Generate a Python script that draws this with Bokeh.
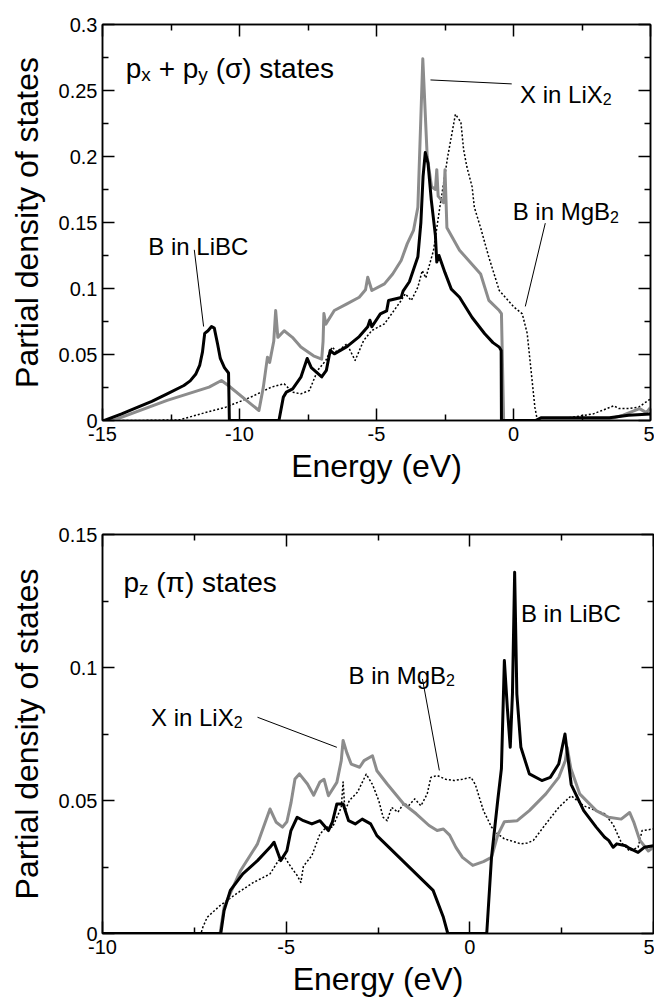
from bokeh.plotting import figure
from bokeh.models import Range1d, FixedTicker, LinearAxis, Label, CustomJSTickFormatter
from bokeh.layouts import column
from bokeh.embed import file_html
from bokeh.resources import INLINE

FONT = "Liberation Sans"

# ---------------- data: top panel (px + py, sigma states) ----------------
top_x_ticks = [-15, -10, -5, 0, 5]
top_x_minor = [-12.5, -7.5, -2.5, 2.5]
top_x_labels = ["-15", "-10", "-5", "0", "5"]
top_y_ticks = [0, 0.05, 0.1, 0.15, 0.2, 0.25, 0.3]
top_y_minor = [0.025, 0.075, 0.125, 0.175, 0.225, 0.275]
top_y_labels = ["0", "0.05", "0.1", "0.15", "0.2", "0.25", "0.3"]

top_libc = [(-15, 0), (-14.93, 0), (-14.3, 0.005), (-13.71, 0.0101), (-13.2, 0.0145),
            (-12.64, 0.0202), (-12.03, 0.0265), (-11.8, 0.030), (-11.6, 0.035), (-11.45, 0.042),
            (-11.35, 0.052), (-11.27, 0.066), (-11.15, 0.068), (-11.02, 0.0712), (-10.92, 0.070),
            (-10.8, 0.058), (-10.7, 0.047), (-10.55, 0.040), (-10.4, 0.036), (-10.37, 0),
            (-8.56, 0), (-8.40, 0.0177), (-8.29, 0.0215), (-8.06, 0.024), (-7.76, 0.0328),
            (-7.53, 0.047), (-7.38, 0.040), (-7.0, 0.033), (-6.83, 0.038), (-6.69, 0.053),
            (-6.54, 0.0505), (-6.08, 0.056), (-5.63, 0.0636), (-5.32, 0.071), (-5.24, 0.076),
            (-5.17, 0.071), (-4.86, 0.0808), (-4.63, 0.083), (-4.56, 0.0909), (-4.10, 0.0932),
            (-4.03, 0.098), (-3.80, 0.1051), (-3.49, 0.124), (-3.38, 0.15), (-3.30, 0.185),
            (-3.22, 0.203), (-3.12, 0.195), (-3.0, 0.167), (-2.85, 0.14), (-2.8, 0.12),
            (-2.72, 0.125), (-2.5, 0.112), (-2.27, 0.0995), (-1.97, 0.0934), (-1.51, 0.078),
            (-1.05, 0.0657), (-0.75, 0.059), (-0.52, 0.0556), (-0.45, 0.053), (-0.44, 0),
            (0.8, 0), (1.0, 0.002), (3.5, 0.002), (4.2, 0.004), (5.0, 0.005)]

top_lix2 = [(-15, 0), (-14.62, 0), (-12.64, 0.0152), (-11.11, 0.0253), (-10.66, 0.0303),
            (-10.41, 0.0265), (-9.59, 0.0126), (-9.29, 0.0076), (-9.13, 0.0253), (-8.98, 0.048),
            (-8.90, 0.044), (-8.75, 0.06), (-8.68, 0.0833), (-8.60, 0.063), (-8.37, 0.068),
            (-8.07, 0.063), (-7.76, 0.0556), (-7.3, 0.049), (-7.0, 0.0465), (-6.95, 0.06),
            (-6.92, 0.081), (-6.85, 0.073), (-6.54, 0.0833), (-6.08, 0.0884), (-5.63, 0.0934),
            (-5.4, 0.099), (-5.32, 0.1086), (-5.17, 0.0985), (-4.71, 0.1035), (-4.41, 0.111),
            (-4.10, 0.1212), (-3.88, 0.1338), (-3.65, 0.144), (-3.49, 0.1616), (-3.31, 0.274),
            (-3.15, 0.20), (-2.99, 0.177), (-2.85, 0.175), (-2.8, 0.19), (-2.75, 0.17),
            (-2.55, 0.165), (-2.5, 0.19), (-2.43, 0.146), (-1.97, 0.129), (-1.20, 0.111),
            (-0.90, 0.091), (-0.52, 0.0833), (-0.44, 0.081), (-0.36, 0), (3.3, 0),
            (4.0, 0.004), (4.6, 0.009), (4.85, 0.006), (5.0, 0.01)]

top_mgb2 = [(-15, 0), (-13.7, 0), (-12.18, 0.0005), (-11.42, 0.005), (-10.5, 0.0101),
            (-9.59, 0.0177), (-8.83, 0.0253), (-8.37, 0.0278), (-8.07, 0.0215), (-7.76, 0.0202),
            (-7.45, 0.0227), (-7.15, 0.0379), (-6.85, 0.0455), (-6.62, 0.0556), (-6.45, 0.052),
            (-6.08, 0.058), (-5.78, 0.0455), (-5.47, 0.0606), (-5.17, 0.0682), (-4.71, 0.0732),
            (-4.10, 0.0909), (-3.95, 0.096), (-3.73, 0.0909), (-3.49, 0.101), (-3.33, 0.1136),
            (-3.2, 0.108), (-2.92, 0.1288), (-2.7, 0.16), (-2.4, 0.20), (-2.12, 0.232),
            (-2.02, 0.229), (-1.92, 0.226), (-1.82, 0.205), (-1.70, 0.192), (-1.51, 0.177),
            (-1.43, 0.1616), (-1.20, 0.146), (-0.90, 0.1237), (-0.52, 0.0985), (0.015, 0.086),
            (0.32, 0.0808), (0.5, 0.066), (0.78, 0.0101), (0.86, 0.0013), (2.0, 0.002),
            (2.91, 0.005), (3.66, 0.0111), (3.85, 0.009), (4.2, 0.009), (4.57, 0.0101),
            (5.0, 0.0164)]

# ---------------- data: bottom panel (pz, pi states) ----------------
bot_x_ticks = [-10, -5, 0, 5]
bot_x_minor = [-7.5, -2.5, 2.5]
bot_x_labels = ["-10", "-5", "0", "5"]
bot_y_ticks = [0, 0.05, 0.1, 0.15]
bot_y_minor = [0.025, 0.075, 0.125]
bot_y_labels = ["0", "0.05", "0.1", "0.15"]

bot_libc = [(-10, 0), (-6.78, 0), (-6.69, 0.0086), (-6.52, 0.0162), (-6.18, 0.0224),
            (-5.78, 0.0274), (-5.44, 0.0324), (-5.33, 0.0343), (-5.15, 0.0274), (-4.98, 0.0311),
            (-4.87, 0.0387), (-4.70, 0.0437), (-4.53, 0.0424), (-4.30, 0.0412), (-4.08, 0.0424),
            (-3.85, 0.0387), (-3.74, 0.042), (-3.62, 0.0487), (-3.45, 0.0487), (-3.3, 0.0424),
            (-3.12, 0.0412), (-2.93, 0.043), (-2.70, 0.0412), (-2.53, 0.0368), (-1.0, 0.0162),
            (-0.72, 0.0061), (-0.6, 0), (0.46, 0), (0.59, 0.0286), (0.76, 0.0501),
            (0.86, 0.062), (0.94, 0.1026), (1.02, 0.085), (1.1, 0.070), (1.16, 0.09),
            (1.22, 0.1358), (1.28, 0.09), (1.39, 0.070), (1.62, 0.060), (1.96, 0.0575),
            (2.19, 0.0587), (2.42, 0.0637), (2.59, 0.075), (2.76, 0.056), (3.10, 0.0462),
            (3.44, 0.040), (3.67, 0.0362), (3.78, 0.035), (3.9, 0.0324), (4.0, 0.0337),
            (4.24, 0.033), (4.35, 0.032), (4.58, 0.0305), (4.75, 0.0324), (5.0, 0.033)]

bot_lix2 = [(-10, 0), (-6.8, 0), (-6.69, 0.0099), (-6.24, 0.0237), (-5.78, 0.0337),
            (-5.44, 0.0468), (-5.27, 0.0418), (-5.10, 0.040), (-4.98, 0.042), (-4.87, 0.049),
            (-4.76, 0.0581), (-4.64, 0.060), (-4.42, 0.0562), (-4.25, 0.052), (-4.08, 0.057),
            (-3.97, 0.058), (-3.85, 0.0518), (-3.62, 0.0568), (-3.5, 0.065), (-3.45, 0.0726),
            (-3.35, 0.068), (-3.23, 0.0637), (-3.0, 0.0625), (-2.88, 0.065), (-2.65, 0.0668),
            (-2.53, 0.0612), (-2.25, 0.0562), (-1.80, 0.0487), (-1.46, 0.045), (-1.11, 0.0406),
            (-0.89, 0.0387), (-0.72, 0.0393), (-0.55, 0.037), (-0.38, 0.0324), (-0.20, 0.0286),
            (0.08, 0.0256), (0.37, 0.027), (0.59, 0.0286), (0.76, 0.037), (0.94, 0.042),
            (1.29, 0.0424), (1.62, 0.0462), (2.07, 0.0525), (2.42, 0.0587), (2.6, 0.065),
            (2.65, 0.07), (2.75, 0.062), (2.99, 0.0525), (3.44, 0.0462), (3.78, 0.0437),
            (4.12, 0.043), (4.35, 0.0455), (4.46, 0.042), (4.63, 0.035), (4.86, 0.031),
            (5.0, 0.0324)]

bot_mgb2 = [(-10, 0), (-7.32, 0), (-7.27, 0.0023), (-7.15, 0.0061), (-6.80, 0.0105),
            (-6.35, 0.015), (-5.89, 0.0192), (-5.44, 0.0224), (-5.21, 0.0274), (-5.04, 0.0287),
            (-4.87, 0.025), (-4.70, 0.0218), (-4.60, 0.0192), (-4.53, 0.0253), (-4.30, 0.0293),
            (-4.08, 0.0374), (-3.91, 0.040), (-3.74, 0.0399), (-3.50, 0.0474), (-3.45, 0.057),
            (-3.40, 0.046), (-3.28, 0.05), (-3.06, 0.0531), (-2.82, 0.0599), (-2.65, 0.056),
            (-2.48, 0.05), (-2.36, 0.0437), (-2.25, 0.0424), (-2.13, 0.0474), (-1.96, 0.0456),
            (-1.79, 0.049), (-1.67, 0.048), (-1.50, 0.0506), (-1.33, 0.048), (-1.16, 0.0525),
            (-1.06, 0.0587), (-0.89, 0.0594), (-0.66, 0.058), (-0.43, 0.0575), (-0.20, 0.058),
            (0.03, 0.0587), (0.15, 0.056), (0.37, 0.0462), (0.59, 0.040), (0.76, 0.0374),
            (0.94, 0.0356), (1.39, 0.0337), (1.56, 0.034), (1.73, 0.035), (2.07, 0.0412),
            (2.42, 0.0474), (2.76, 0.0518), (3.10, 0.048), (3.44, 0.0462), (3.67, 0.045),
            (3.9, 0.041), (4.12, 0.0343), (4.35, 0.031), (4.58, 0.0324), (4.69, 0.0387),
            (5.0, 0.0393)]

# annotation anchors (data units) and leader lines
top_title_at = (-14.15, 0.2667)
top_lix2_at = (0.24, 0.247)
top_mgb2_at = (-0.03, 0.158)
top_libc_at = (-13.33, 0.132)
top_leaders = [((-3.03, 0.258), (-0.065, 0.255)),
               ((1.16, 0.1495), (0.43, 0.0864)),
               ((-11.65, 0.1293), (-11.31, 0.0712))]

bot_title_at = (-9.43, 0.132)
bot_libc_at = (1.39, 0.1202)
bot_mgb2_at = (-3.30, 0.097)
bot_lix2_at = (-8.68, 0.0813)
bot_leaders = [((-1.29, 0.0957), (-0.83, 0.0613)),
               ((-5.78, 0.0813), (-3.62, 0.070))]

# Arial/Liberation Sans advance widths (em) for offset computation
EM = {"p": 0.556, "x": 0.5, "y": 0.5, "z": 0.5, " ": 0.278, "+": 0.584, "X": 0.667,
      "i": 0.222, "n": 0.556, "L": 0.556, "B": 0.667, "M": 0.833, "g": 0.556}


def text_width(s, size):
    return sum(EM.get(c, 0.556) for c in s) * size


def rich(p, at, pieces, size, sub_size, sub_drop):
    off = 0.0
    for txt, sub in pieces:
        fs = sub_size if sub else size
        lead = len(txt) - len(txt.lstrip(" "))
        off += lead * EM[" "] * fs
        body = txt.lstrip(" ")
        p.add_layout(Label(x=at[0], y=at[1], x_offset=off, y_offset=-sub_drop if sub else 0,
                           text=body, text_font=FONT, text_font_size=f"{fs}px",
                           text_color="black", text_baseline="alphabetic", text_align="left"))
        off += text_width(body, fs)


def style_axis(ax, ticks, minor, labels=None):
    ax.ticker = FixedTicker(ticks=ticks, minor_ticks=minor)
    ax.major_tick_in = 12
    ax.major_tick_out = 0
    ax.minor_tick_in = 6
    ax.minor_tick_out = 0
    ax.axis_line_color = "black"
    ax.axis_line_width = 1.5
    ax.major_tick_line_color = "black"
    ax.major_tick_line_width = 1.5
    ax.minor_tick_line_color = "black"
    ax.minor_tick_line_width = 1.5
    if labels is None:
        ax.formatter = CustomJSTickFormatter(code="return ''")
        ax.major_label_text_font_size = "0px"
        ax.major_label_standoff = 0
    else:
        ax.major_label_overrides = {t: l for t, l in zip(ticks, labels)}
        ax.major_label_text_font = FONT
        ax.major_label_text_font_size = "20px"
        ax.major_label_text_color = "black"
        ax.axis_label_text_font = FONT
        ax.axis_label_text_font_size = "32px"
        ax.axis_label_text_font_style = "normal"
        ax.axis_label_text_color = "black"


def make_panel(xr, yr, fw, fh, bl, bt, bb, br, xt, xm, xl, yt, ym, yl):
    p = figure(x_range=Range1d(*xr), y_range=Range1d(*yr), frame_width=fw, frame_height=fh,
               min_border_left=bl, min_border_top=bt, min_border_bottom=bb, min_border_right=br,
               output_backend="svg", toolbar_location=None, background_fill_color="white",
               border_fill_color="white")
    p.xgrid.visible = False
    p.ygrid.visible = False
    p.outline_line_color = "black"
    p.outline_line_width = 1.5
    style_axis(p.xaxis[0], xt, xm, xl)
    style_axis(p.yaxis[0], yt, ym, yl)
    p.xaxis[0].axis_label = "Energy (eV)"
    p.xaxis[0].major_label_standoff = 6
    p.xaxis[0].axis_label_standoff = 4
    p.yaxis[0].axis_label = "Partial density of states"
    p.yaxis[0].major_label_standoff = 5
    p.yaxis[0].axis_label_standoff = 11
    top_ax = LinearAxis()
    style_axis(top_ax, xt, xm)
    p.add_layout(top_ax, "above")
    right_ax = LinearAxis()
    style_axis(right_ax, yt, ym)
    p.add_layout(right_ax, "right")
    return p


def draw(p, series, color, width, dash):
    xs = [a for a, b in series]
    ys = [b for a, b in series]
    p.line(xs, ys, line_color=color, line_width=width, line_dash=dash, line_join="round")


def leaders(p, segs):
    p.segment(x0=[s[0][0] for s in segs], y0=[s[0][1] for s in segs],
              x1=[s[1][0] for s in segs], y1=[s[1][1] for s in segs],
              line_color="black", line_width=1)


# top panel
p1 = make_panel((-15, 5), (0, 0.3), 548, 396, 102, 24, 80, 4,
                top_x_ticks, top_x_minor, top_x_labels, top_y_ticks, top_y_minor, top_y_labels)
draw(p1, top_mgb2, "black", 1.5, "2 2")
draw(p1, top_lix2, "#8c8c8c", 3, "solid")
draw(p1, top_libc, "black", 3, "solid")
leaders(p1, top_leaders)
rich(p1, top_title_at, [("p", False), ("x", True), (" + p", False), ("y", True), (" (σ) states", False)], 28, 19, 6)
rich(p1, top_lix2_at, [("X in LiX", False), ("2", True)], 24, 16, 5)
rich(p1, top_mgb2_at, [("B in MgB", False), ("2", True)], 24, 16, 5)
rich(p1, top_libc_at, [("B in LiBC", False)], 24, 16, 5)

# bottom panel
p2 = make_panel((-10, 5), (0, 0.15), 551, 399, 100, 34, 66, 3,
                bot_x_ticks, bot_x_minor, bot_x_labels, bot_y_ticks, bot_y_minor, bot_y_labels)
draw(p2, bot_mgb2, "black", 1.5, "2 2")
draw(p2, bot_lix2, "#8c8c8c", 3, "solid")
draw(p2, bot_libc, "black", 3, "solid")
leaders(p2, bot_leaders)
rich(p2, bot_title_at, [("p", False), ("z", True), (" (π) states", False)], 28, 19, 6)
rich(p2, bot_libc_at, [("B in LiBC", False)], 24, 16, 5)
rich(p2, bot_mgb2_at, [("B in MgB", False), ("2", True)], 24, 16, 5)
rich(p2, bot_lix2_at, [("X in LiX", False), ("2", True)], 24, 16, 5)

layout = column(p1, p2, spacing=0)
open("out.html", "w").write(file_html(layout, INLINE))
